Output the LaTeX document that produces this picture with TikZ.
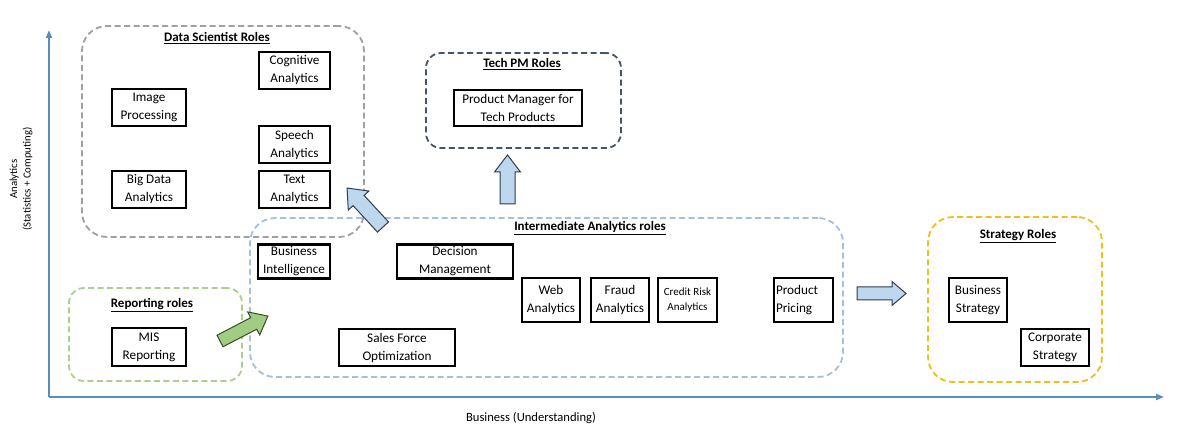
\documentclass[tikz,border=0pt]{standalone}
\usepackage{fontspec}
\setmainfont{Carlito}
\usetikzlibrary{arrows.meta}
\definecolor{axisblue}{RGB}{91,140,190}
\definecolor{dsgray}{RGB}{160,160,160}
\definecolor{pmdark}{RGB}{68,84,106}
\definecolor{interblue}{RGB}{165,192,218}
\definecolor{repgreen}{RGB}{169,209,142}
\definecolor{stratyellow}{RGB}{240,190,30}
\definecolor{arrowblue}{RGB}{189,215,238}
\definecolor{arrowline}{RGB}{50,60,75}
\definecolor{arrowgreen}{RGB}{160,205,130}
\definecolor{greenline}{RGB}{55,75,45}
\newcommand\barrow[7]{% tail, angle, length, shaft, head, headlen, style
  \draw[#7, shift={#1}, rotate=#2] (0,{-#4/2}) -- ({#3-#6},{-#4/2}) -- ({#3-#6},{-#5/2}) -- (#3,0)
    -- ({#3-#6},{#5/2}) -- ({#3-#6},{#4/2}) -- (0,{#4/2}) -- cycle;}
\tikzset{
  role/.style={draw=black, line width=2.3pt, align=center, inner sep=0pt,
    font=\fontsize{13.2}{18}\selectfont},
  grp/.style={draw=#1, dash pattern=on 6pt off 3.5pt, line width=1.8pt, inner sep=0pt},
  gtitle/.style={font=\fontsize{13}{16}\selectfont\bfseries, inner sep=0pt},
  axis/.style={draw=axisblue, line width=2pt, -{Triangle[length=8pt,width=6pt]}},
  barblue/.style={fill=arrowblue, draw=arrowline, line width=1pt, line join=miter},
  bargreen/.style={fill=arrowgreen, draw=greenline, line width=1pt, line join=miter},
}
\begin{document}
\begin{tikzpicture}[x=1pt,y=-1pt]
\fill[white] (0,0) rectangle (1184,435);
\useasboundingbox (0,0) rectangle (1184,435);

% axes
\coordinate (O) at (49,397);
\coordinate (ytop) at (49,30);
\coordinate (xend) at (1164,397);
\draw[axis] (O) -- (ytop);
\draw[axis] (O) -- (xend);
\node[rotate=90, align=center, font=\fontsize{10.8}{13.5}\selectfont] (ylab) at (21,179) {Analytics\\(Statistics + Computing)};
\node[font=\fontsize{12.6}{15}\selectfont] (xlab) at (531,418) {Business (Understanding)};

% groups
\node[grp=dsgray, rounded corners=25pt, minimum width=282pt, minimum height=211pt] (ds) at (223,131.5) {};
\node[grp=pmdark, rounded corners=15pt, minimum width=195pt, minimum height=95pt] (pm) at (523.5,100.5) {};
\node[grp=interblue, rounded corners=25pt, minimum width=593pt, minimum height=159pt] (inter) at (546.5,297.5) {};
\node[grp=repgreen, rounded corners=15pt, minimum width=173pt, minimum height=93pt] (rep) at (155.5,334.5) {};
\node[grp=stratyellow, rounded corners=25pt, minimum width=174pt, minimum height=165pt] (strat) at (1015,299.5) {};

% titles
\node[gtitle] (dst) at (217,38) {\underline{Data Scientist Roles}};
\node[gtitle] (pmt) at (522,64) {\underline{Tech PM Roles}};
\node[gtitle] (intt) at (590,228) {\underline{Intermediate Analytics roles}};
\node[gtitle] (rept) at (152,305) {\underline{Reporting roles}};
\node[gtitle] (stt) at (1018,236) {\underline{Strategy Roles}};

% data scientist roles
\node[role, minimum width=71pt, minimum height=37pt] (cog) at (294.5,70.5) {Cognitive\\Analytics};
\node[role, minimum width=74pt, minimum height=37pt] (img) at (149,107.5) {Image\\Processing};
\node[role, minimum width=71pt, minimum height=37pt] (sp) at (294.5,144.5) {Speech\\Analytics};
\node[role, minimum width=74pt, minimum height=37pt] (bd) at (149,189.5) {Big Data\\Analytics};
\node[role, minimum width=71pt, minimum height=37pt] (txt) at (294.5,189.5) {Text\\Analytics};

% tech pm
\node[role, minimum width=128pt, minimum height=36pt] (pmt1) at (518,108) {Product Manager for\\Tech Products};

% intermediate
\node[role, minimum width=72pt, minimum height=34pt] (bi) at (294,261.5) {Business\\Intelligence};
\node[role, minimum width=116pt, minimum height=34pt] (dm) at (455,261.5) {Decision\\Management};
\node[role, minimum width=58pt, minimum height=44pt] (web) at (551,300) {Web\\Analytics};
\node[role, minimum width=58pt, minimum height=44pt] (fr) at (620,300) {Fraud\\Analytics};
\node[role, minimum width=59pt, minimum height=44pt, font=\fontsize{11}{14.3}\selectfont] (cr) at (687.5,300) {Credit Risk\\Analytics};
\node[role, align=left, text width=55pt, inner xsep=2pt, minimum height=44pt] (pp) at (803.5,300) {Product\\Pricing};
\node[role, minimum width=116pt, minimum height=37pt] (sfo) at (397,347.5) {Sales Force\\Optimization};

% reporting
\node[role, minimum width=74pt, minimum height=38pt] (mis) at (149,347) {MIS\\Reporting};

% strategy
\node[role, minimum width=58pt, minimum height=44pt] (bs) at (978,300) {Business\\Strategy};
\node[role, minimum width=68pt, minimum height=37pt] (cs) at (1055,347.5) {Corporate\\Strategy};

% block arrows
\coordinate (a1) at (507.5,204);
\coordinate (a2) at (383,227);
\coordinate (a3) at (857,293.5);
\coordinate (a4) at (220,341);
\barrow{(a1)}{90}{49}{15}{26}{17}{barblue}
\barrow{(a2)}{132.7}{53}{15}{28}{17}{barblue}
\barrow{(a3)}{0}{49}{13}{24}{14}{barblue}
\barrow{(a4)}{27.5}{54}{13}{26}{16}{bargreen}
\end{tikzpicture}
\end{document}
